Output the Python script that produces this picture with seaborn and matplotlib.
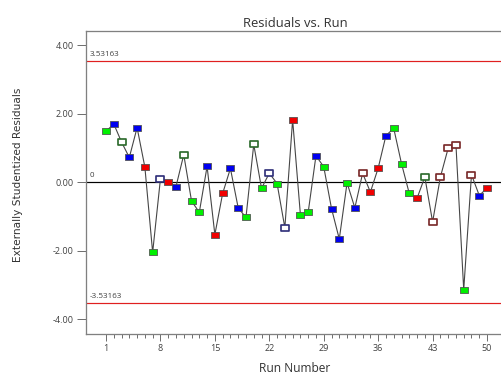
import matplotlib
matplotlib.use("Agg")
import matplotlib.pyplot as plt
from matplotlib.path import Path
import numpy as np
import pandas as pd
import seaborn as sns

# Run order, externally studentized residuals and point group
runs = list(range(1, 51))
residuals = [
    1.48, 1.70, 1.17, 0.72, 1.59, 0.44, -2.05, 0.09, 0.00, -0.13,
    0.80, -0.55, -0.88, 0.46, -1.53, -0.33, 0.40, -0.75, -1.03, 1.10,
    -0.18, 0.26, -0.04, -1.33, 1.82, -0.95, -0.88, 0.77, 0.45, -0.77,
    -1.66, -0.02, -0.75, 0.26, -0.29, 0.41, 1.36, 1.57, 0.54, -0.33,
    -0.47, 0.15, -1.16, 0.15, 0.99, 1.09, -3.14, 0.22, -0.39, -0.17,
]
groups = [
    "G", "B", "HG", "B", "B", "R", "G", "HN", "R", "B",
    "HG", "G", "G", "B", "R", "R", "B", "B", "G", "HG",
    "G", "HN", "G", "HN", "R", "G", "G", "B", "G", "B",
    "B", "G", "B", "HB", "R", "R", "B", "G", "G", "G",
    "R", "HG", "HB", "HB", "HB", "HB", "G", "HB", "B", "R",
]
limit = 3.53163
x_ticks = [1, 8, 15, 22, 29, 36, 43, 50]
y_ticks = [-4.0, -2.0, 0.0, 2.0, 4.0]

df = pd.DataFrame({"run": runs, "resid": residuals, "group": groups})

# face colour, edge colour, size, edge width per group
styles = {
    "G": ("#00f000", "#505050", 56, 0.8),
    "B": ("#0000f0", "#505050", 56, 0.8),
    "R": ("#f00000", "#505050", 56, 0.8),
    "HG": ("white", "#2c6a2c", 80, 1.7),
    "HN": ("white", "#30307a", 80, 1.7),
    "HB": ("white", "#7a2a2a", 80, 1.7),
}

sns.set_theme(style="white")
plt.rcParams["font.family"] = ["Open Sans", "DejaVu Sans"]

W, H = 501, 376
fig = plt.figure(figsize=(W / 72, H / 72), dpi=72)
ax = fig.add_axes([86 / W, (H - 334) / H, (504 - 86) / W, (334 - 31) / H])

# wide flat rectangle marker
rect = Path([(-1.3, -0.95), (1.3, -0.95), (1.3, 0.95), (-1.3, 0.95), (-1.3, -0.95)],
            [Path.MOVETO, Path.LINETO, Path.LINETO, Path.LINETO, Path.CLOSEPOLY])

ax.axhline(0, color="black", lw=1.2, zorder=1)
ax.axhline(limit, color="#e02020", lw=1.2, zorder=1)
ax.axhline(-limit, color="#e02020", lw=1.2, zorder=1)

sns.lineplot(data=df, x="run", y="resid", color="#454545", lw=1.1,
             sort=False, ax=ax, zorder=2)
for g, (fc, ec, s, lw) in styles.items():
    sub = df[df["group"] == g]
    sns.scatterplot(data=sub, x="run", y="resid", marker=rect, s=s,
                    color=fc, edgecolor=ec, linewidth=lw, ax=ax, zorder=3)

ax.set_xlim(-1.57, 52.18)
ax.set_ylim(-4.43, 4.41)

ax.set_xticks(x_ticks)
ax.set_xticks(runs, minor=True)
ax.set_yticks(y_ticks)
ax.set_yticklabels([f"{v:.2f}" for v in y_ticks])

ax.tick_params(axis="x", which="major", direction="out", length=7, width=1,
               color="#707070", labelsize=9, labelcolor="#404040", pad=3,
               bottom=True)
ax.tick_params(axis="x", which="minor", direction="out", length=4, width=1,
               color="#707070", bottom=True)
ax.tick_params(axis="y", which="major", direction="out", length=9, width=1,
               color="#707070", labelsize=9, labelcolor="#404040", pad=3,
               left=True)

for side in ["left", "bottom", "top"]:
    ax.spines[side].set_color("#808080")
    ax.spines[side].set_linewidth(1.3)
ax.spines["right"].set_visible(False)

ax.set_title("Residuals vs. Run", fontsize=13, color="#333333", pad=4)
ax.set_xlabel("Run Number", fontsize=12, color="#333333", labelpad=9)
ax.set_ylabel("")
fig.text(18 / W, 1 - 175 / H, "Externally Studentized Residuals",
         rotation=90, ha="center", va="center", fontsize=10.5,
         color="#333333", family=["Liberation Sans Narrow", "DejaVu Sans"])

ax.text(-1.1, limit + 0.08, f"{limit:.5f}", fontsize=8, color="#404040",
        ha="left", va="bottom")
ax.text(-1.1, -limit + 0.08, f"{-limit:.5f}", fontsize=8, color="#404040",
        ha="left", va="bottom")
ax.text(-1.1, 0.08, "0", fontsize=8, color="#404040", ha="left", va="bottom")

fig.savefig("out.png", dpi=72)
